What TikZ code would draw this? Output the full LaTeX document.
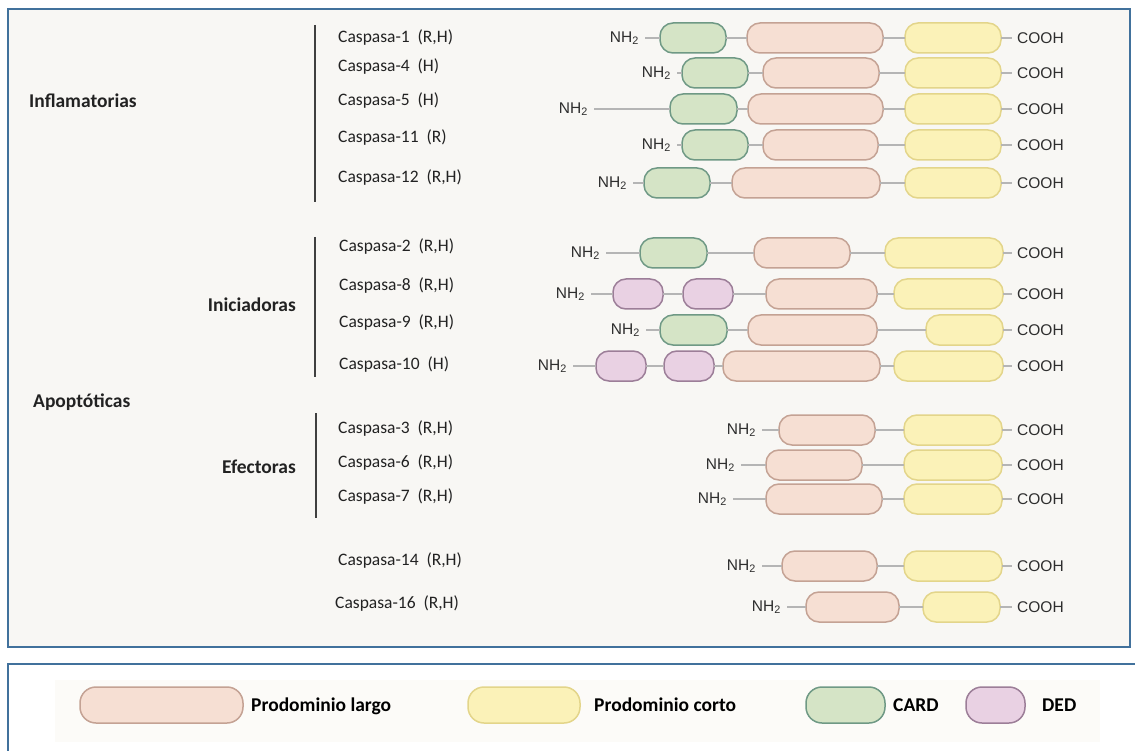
\documentclass[tikz,border=0pt]{standalone}
\usepackage{fontspec}
\setmainfont{Carlito}
\newfontfamily\arialf{Liberation Sans}
\definecolor{LgF}{HTML}{F6DFD3}
\definecolor{LgD}{HTML}{C4A294}
\definecolor{YF}{HTML}{FBF2B8}
\definecolor{YD}{HTML}{E3D58A}
\definecolor{CF}{HTML}{D5E4C6}
\definecolor{CD}{HTML}{6F9985}
\definecolor{DF}{HTML}{E9D1E3}
\definecolor{DD}{HTML}{9C7E98}
\definecolor{LinkC}{HTML}{B5B5B5}
\definecolor{TxtC}{HTML}{2E2E2E}
\definecolor{BgC}{HTML}{F8F7F4}
\definecolor{LegBg}{HTML}{FCFBF8}
\definecolor{FrameC}{HTML}{41719C}
\definecolor{LabC}{HTML}{222222}
\newcommand\dombox[5]{\node[#2,minimum width={(#4)-(#3)}] (#1) at ({((#3)+(#4))/2},#5) {};}
\newcommand\nhnode[3]{\node[nhs] (#1) at ({(#2)+6},#3) {NH\textsubscript{2}};}
\newcommand\coohnode[2]{\node[coohs] (#1) at (1012,#2) {COOH};}
\tikzset{
  dom/.style={draw, rounded corners=13pt, minimum height=30pt, inner sep=0pt, outer sep=0pt, line width=1.5pt},
  large/.style={dom, fill=LgF, draw=LgD},
  short/.style={dom, fill=YF, draw=YD},
  card/.style={dom, fill=CF, draw=CD},
  ded/.style={dom, fill=DF, draw=DD},
  link/.style={draw=LinkC, line width=1.5pt},
  nhs/.style={font=\arialf\fontsize{15.5}{15.5}\selectfont, text=TxtC, inner xsep=6pt, inner ysep=0pt, anchor=east},
  coohs/.style={font=\arialf\fontsize{15.5}{15.5}\selectfont, text=TxtC, inner xsep=5pt, inner ysep=0pt, anchor=west},
  lab/.style={font=\fontsize{17.5}{19}\selectfont, text=LabC, inner sep=0pt, anchor=west},
  grp/.style={font=\bfseries\fontsize{19.5}{21}\selectfont, text=LabC, inner sep=0pt},
  bar/.style={draw=black!75, line width=1.5pt},
  frame/.style={draw=FrameC, line width=2.5pt},
  leg/.style={draw, rounded corners=16pt, minimum height=36pt, inner sep=0pt, outer sep=0pt, line width=1.5pt},
  legtxt/.style={font=\bfseries\fontsize{19.5}{21}\selectfont, text=black, inner sep=0pt, anchor=base west}
}
\begin{document}
\begin{tikzpicture}[x=1pt,y=-1pt]
\useasboundingbox (0,0) rectangle (1135,751);
\clip (0,0) rectangle (1135,751);
\fill[white] (0,0) rectangle (1135,751);
\draw[frame, fill=BgC] (8,9) rectangle (1130,647);
\fill[LegBg] (55,680) rectangle (1100,742);
\draw[frame] (8,664) rectangle (1150,780);

% group labels and bars
\node[grp, anchor=west] (gInf) at (29,101) {Inflamatorias};
\node[grp, anchor=east] (gIni) at (296,305) {Iniciadoras};
\node[grp, anchor=west] (gApo) at (33,402) {Apoptóticas};
\node[grp, anchor=east] (gEfe) at (296,467) {Efectoras};
\coordinate (b1t) at (315,25); \coordinate (b1b) at (315,202);
\coordinate (b2t) at (315,237); \coordinate (b2b) at (315,377);
\coordinate (b3t) at (316,413); \coordinate (b3b) at (316,518);
\draw[bar] (b1t) -- (b1b);
\draw[bar] (b2t) -- (b2b);
\draw[bar] (b3t) -- (b3b);

% caspase labels
\node[lab] (t1) at (338,38) {Caspasa-1~ (R,H)};
\node[lab] (t4) at (338,67) {Caspasa-4~ (H)};
\node[lab] (t5) at (338,101) {Caspasa-5~ (H)};
\node[lab] (t11) at (338,138) {Caspasa-11~ (R)};
\node[lab] (t12) at (338,178) {Caspasa-12~ (R,H)};
\node[lab] (t2) at (339,247) {Caspasa-2~ (R,H)};
\node[lab] (t8) at (339,286) {Caspasa-8~ (R,H)};
\node[lab] (t9) at (339,323) {Caspasa-9~ (R,H)};
\node[lab] (t10) at (339,365) {Caspasa-10~ (H)};
\node[lab] (t3) at (338,429) {Caspasa-3~ (R,H)};
\node[lab] (t6) at (338,463) {Caspasa-6~ (R,H)};
\node[lab] (t7) at (338,497) {Caspasa-7~ (R,H)};
\node[lab] (t14) at (338,561) {Caspasa-14~ (R,H)};
\node[lab] (t16) at (335,604) {Caspasa-16~ (R,H)};

% Caspasa-1
\nhnode{n1}{639}{38}
\dombox{c1}{card}{660}{726}{38}
\dombox{l1}{large}{747}{883}{38}
\dombox{y1}{short}{905}{1001}{38}
\coohnode{o1}{38}
\draw[link] (n1) -- (c1) -- (l1) -- (y1) -- (o1);
% Caspasa-4
\nhnode{n4}{671}{73}
\dombox{c4}{card}{682}{748}{73}
\dombox{l4}{large}{763}{879}{73}
\dombox{y4}{short}{905}{1001}{73}
\coohnode{o4}{73}
\draw[link] (n4) -- (c4) -- (l4) -- (y4) -- (o4);
% Caspasa-5
\nhnode{n5}{588}{109}
\dombox{c5}{card}{670}{737}{109}
\dombox{l5}{large}{748}{883}{109}
\dombox{y5}{short}{905}{1001}{109}
\coohnode{o5}{109}
\draw[link] (n5) -- (c5) -- (l5) -- (y5) -- (o5);
% Caspasa-11
\nhnode{n11}{671}{145}
\dombox{c11}{card}{682}{748}{145}
\dombox{l11}{large}{763}{878}{145}
\dombox{y11}{short}{905}{1001}{145}
\coohnode{o11}{145}
\draw[link] (n11) -- (c11) -- (l11) -- (y11) -- (o11);
% Caspasa-12
\nhnode{n12}{627}{183}
\dombox{c12}{card}{644}{710}{183}
\dombox{l12}{large}{732}{880}{183}
\dombox{y12}{short}{905}{1001}{183}
\coohnode{o12}{183}
\draw[link] (n12) -- (c12) -- (l12) -- (y12) -- (o12);
% Caspasa-2
\nhnode{n2}{600}{253}
\dombox{c2}{card}{640}{707}{253}
\dombox{l2}{large}{754}{850}{253}
\dombox{y2}{short}{885}{1003}{253}
\coohnode{o2}{253}
\draw[link] (n2) -- (c2) -- (l2) -- (y2) -- (o2);
% Caspasa-8
\nhnode{n8}{585}{294}
\dombox{d8a}{ded}{613}{663}{294}
\dombox{d8b}{ded}{683}{733}{294}
\dombox{l8}{large}{766}{877}{294}
\dombox{y8}{short}{894}{1003}{294}
\coohnode{o8}{294}
\draw[link] (n8) -- (d8a) -- (d8b) -- (l8) -- (y8) -- (o8);
% Caspasa-9
\nhnode{n9}{640}{330}
\dombox{c9}{card}{660}{727}{330}
\dombox{l9}{large}{748}{877}{330}
\dombox{y9}{short}{926}{1003}{330}
\coohnode{o9}{330}
\draw[link] (n9) -- (c9) -- (l9) -- (y9) -- (o9);
% Caspasa-10
\nhnode{n10}{567}{366}
\dombox{d10a}{ded}{596}{646}{366}
\dombox{d10b}{ded}{664}{714}{366}
\dombox{l10}{large}{723}{880}{366}
\dombox{y10}{short}{894}{1003}{366}
\coohnode{o10}{366}
\draw[link] (n10) -- (d10a) -- (d10b) -- (l10) -- (y10) -- (o10);
% Caspasa-3
\nhnode{n3}{756}{430}
\dombox{l3}{large}{779}{875}{430}
\dombox{y3}{short}{904}{1002}{430}
\coohnode{o3}{430}
\draw[link] (n3) -- (l3) -- (y3) -- (o3);
% Caspasa-6
\nhnode{n6}{735}{465}
\dombox{l6}{large}{766}{862}{465}
\dombox{y6}{short}{904}{1002}{465}
\coohnode{o6}{465}
\draw[link] (n6) -- (l6) -- (y6) -- (o6);
% Caspasa-7
\nhnode{n7}{727}{499}
\dombox{l7}{large}{766}{882}{499}
\dombox{y7}{short}{904}{1002}{499}
\coohnode{o7}{499}
\draw[link] (n7) -- (l7) -- (y7) -- (o7);
% Caspasa-14
\nhnode{n14}{756}{566}
\dombox{l14}{large}{782}{877}{566}
\dombox{y14}{short}{904}{1002}{566}
\coohnode{o14}{566}
\draw[link] (n14) -- (l14) -- (y14) -- (o14);
% Caspasa-16
\nhnode{n16}{781}{607}
\dombox{l16}{large}{806}{899}{607}
\dombox{y16}{short}{923}{1000}{607}
\coohnode{o16}{607}
\draw[link] (n16) -- (l16) -- (y16) -- (o16);

% legend
\node[leg, fill=LgF, draw=LgD, minimum width=163pt] (kL) at (161.5,705) {};
\node[legtxt] (kLt) at (251,711.5) {Prodominio largo};
\node[leg, fill=YF, draw=YD, minimum width=112pt] (kY) at (524,705) {};
\node[legtxt] (kYt) at (594,711.5) {Prodominio corto};
\node[leg, fill=CF, draw=CD, minimum width=79pt] (kC) at (845.5,705) {};
\node[legtxt] (kCt) at (893,711.5) {CARD};
\node[leg, fill=DF, draw=DD, minimum width=59pt] (kD) at (995.5,705) {};
\node[legtxt] (kDt) at (1042,711.5) {DED};
\end{tikzpicture}
\end{document}
